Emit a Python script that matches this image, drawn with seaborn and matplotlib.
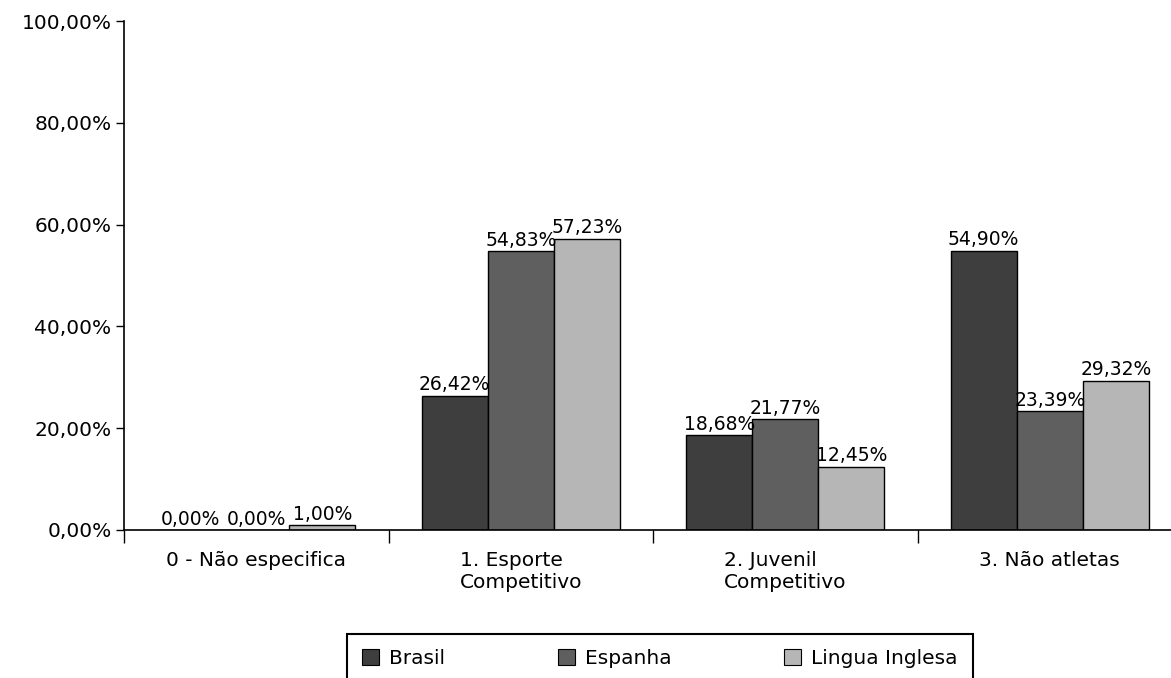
import matplotlib
matplotlib.use("Agg")
import matplotlib.pyplot as plt
from matplotlib.ticker import FixedLocator, FuncFormatter
import pandas as pd
import seaborn as sns

# Categories and series
categories = ["0 - Não especifica", "1. Esporte\nCompetitivo",
              "2. Juvenil\nCompetitivo", "3. Não atletas"]
groups = ["Brasil", "Espanha", "Lingua Inglesa"]
brasil = [0.00, 26.42, 18.68, 54.90]
espanha = [0.00, 54.83, 21.77, 23.39]
lingua_inglesa = [1.00, 57.23, 12.45, 29.32]
y_ticks = [0, 20, 40, 60, 80, 100]

series = {"Brasil": brasil, "Espanha": espanha, "Lingua Inglesa": lingua_inglesa}
df = pd.DataFrame(
    [(cat, g, v) for g in groups for cat, v in zip(categories, series[g])],
    columns=["categoria", "grupo", "valor"],
)

sns.set_theme(style="white")
plt.rcParams["font.family"] = ["DejaVu Sans"]
plt.rcParams["text.color"] = "black"

fig = plt.figure(figsize=(11.71, 6.78), dpi=100)
ax = fig.add_axes([0.1059, 0.2183, 0.9035, 0.7507])

palette = {"Brasil": "#3e3e3e", "Espanha": "#5f5f5f", "Lingua Inglesa": "#b6b6b6"}
sns.barplot(data=df, x="categoria", y="valor", hue="grupo", order=categories,
            hue_order=groups, palette=palette, width=0.75, gap=0,
            edgecolor="black", linewidth=1, saturation=1, ax=ax, legend=True)


def pct(v):
    return f"{v:.2f}".replace(".", ",") + "%"


for cont, g in zip(ax.containers, groups):
    ax.bar_label(cont, labels=[pct(v) for v in series[g]], padding=1,
                 fontsize=13.5, color="black")

ax.set_xlim(-0.5, 3.5)
ax.set_ylim(0, 100)
ax.set_xlabel("")
ax.set_ylabel("")

ax.yaxis.set_major_locator(FixedLocator(y_ticks))
ax.yaxis.set_major_formatter(FuncFormatter(lambda v, p: f"{v:.2f}".replace(".", ",") + "%"))
ax.tick_params(axis="y", which="major", left=True, direction="out", length=6,
               width=1, pad=3, labelsize=14.5, colors="black")

ax.xaxis.set_minor_locator(FixedLocator([-0.5, 0.5, 1.5, 2.5, 3.5]))
ax.tick_params(axis="x", which="minor", bottom=True, direction="out", length=9,
               width=1, color="black")
ax.tick_params(axis="x", which="major", bottom=False, length=0, pad=15,
               labelsize=14.5, labelcolor="black")
for lbl in ax.get_xticklabels():
    lbl.set_multialignment("left")
    lbl.set_linespacing(1.2)

for side in ["top", "right"]:
    ax.spines[side].set_visible(False)
for side in ["left", "bottom"]:
    ax.spines[side].set_color("black")
    ax.spines[side].set_linewidth(1.2)

ax.get_legend().remove()
handles = [plt.Rectangle((0, 0), 1, 1, facecolor=palette[g], edgecolor="black", linewidth=0.8)
           for g in groups]
leg = fig.legend(handles, groups, loc="upper left",
                 bbox_to_anchor=(0.2963, 0.0, 0.5346, 0.0649), mode="expand",
                 ncol=3, frameon=True, fancybox=False, shadow=False,
                 fontsize=14.5, handlelength=0.85, handleheight=0.85,
                 handletextpad=0.5, borderpad=0.75, borderaxespad=0)
leg.get_frame().set_edgecolor("black")
leg.get_frame().set_linewidth(1.5)
leg.get_frame().set_alpha(1)

fig.savefig("out.png", dpi=100)
